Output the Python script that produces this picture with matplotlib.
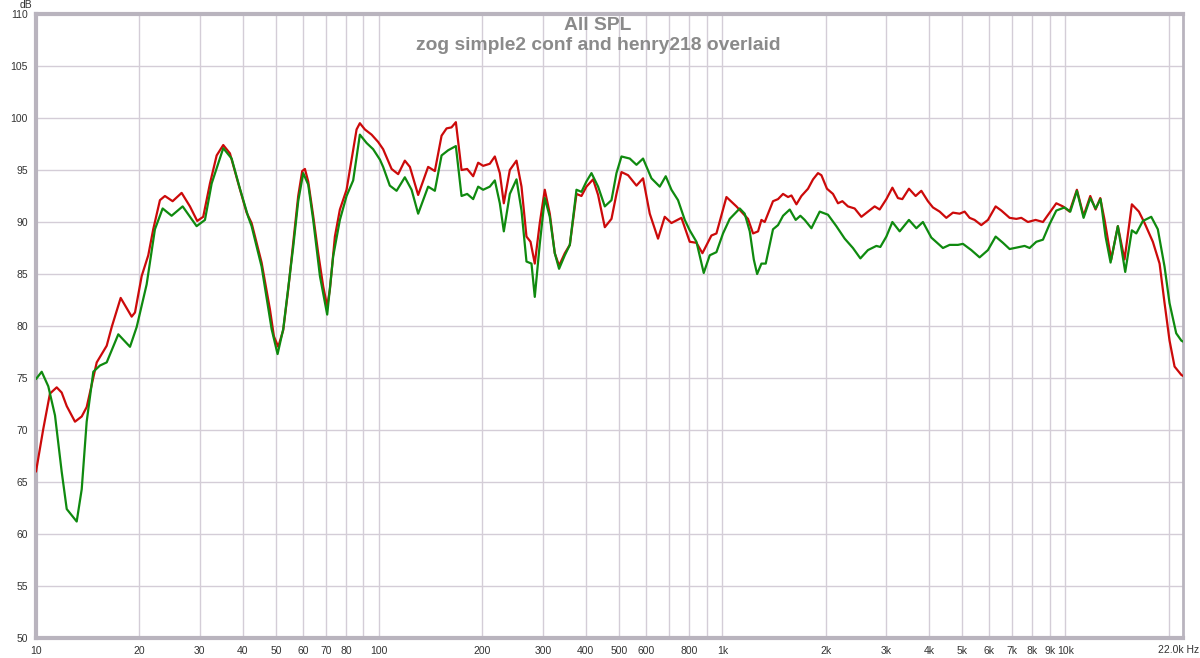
import matplotlib
matplotlib.use("Agg")
import matplotlib.pyplot as plt
from matplotlib.ticker import FixedLocator, NullLocator, FixedFormatter

# ---------------- data ----------------
red_freq = [10.0, 10.5, 10.98, 11.49, 11.88, 12.29, 12.99, 13.59, 14.05, 15.03, 16.07, 16.62, 17.65, 19.0, 19.43,
            20.32, 21.24, 21.96, 22.97, 23.75, 25.01, 26.57, 28.09, 29.50, 30.71, 32.13, 33.61,
            35.13, 36.74, 38.86, 41.09, 42.49, 45.44, 48.05, 49.36, 50.8, 52.53, 54.32, 56.17,
            58.09, 59.67, 60.76, 62.12, 64.23, 66.43, 68.70, 70.56, 71.85, 74.30, 76.83, 80.35,
            83.10, 85.94, 87.85, 90.85, 95.04, 99.3, 102.7, 108.7, 113.6, 118.8, 122.9, 129.9,
            138.9, 145.3, 152.0, 157.2, 162.5, 167.3, 173.8, 180.5, 187.9, 194.3, 200.9, 210.1,
            217.3, 224.7, 230.8, 240.3, 251.3, 259.9, 268.7, 276.1, 284.1, 293.8, 303.8, 314.2,
            324.9, 334.4, 347.5, 359.4, 375.8, 388.6, 401.8, 420.1, 434.5, 454.5, 475.3, 491.5,
            508.3, 531.3, 562.1, 587.5, 614.5, 649.6, 679.4, 710.7, 760.0, 803.5, 840.6, 875.0,
            929.4, 961.2, 1028, 1099, 1188, 1229, 1271, 1300, 1329, 1405, 1453, 1503, 1554, 1590,
            1644, 1700, 1777, 1838, 1900, 1944, 2018, 2101, 2173, 2238, 2323, 2430, 2542, 2657,
            2779, 2874, 3006, 3130, 3249, 3346, 3498, 3658, 3801, 3973, 4109, 4298, 4495, 4699,
            4915, 5082, 5256, 5434, 5683, 5943, 6258, 6502, 6874, 7190, 7435, 7771, 8183, 8597,
            8990, 9402, 9827, 10278, 10795, 11290, 11808, 12236, 12628, 12998, 13591, 14210,
            14862, 15610, 16363, 17000, 17970, 18800, 19440, 20100, 20790, 21750, 22000]
red_db = [66.0, 70.1, 73.5, 74.1, 73.6, 72.3, 70.8, 71.3, 72.2, 76.5, 78.1, 79.9, 82.7, 80.9, 81.3,
          84.8, 86.8, 89.3, 92.1, 92.5, 92.0, 92.8, 91.5, 90.1, 90.5, 93.7, 96.4,
          97.4, 96.6, 93.7, 90.9, 89.9, 86.1, 81.6, 79.0, 78.0, 79.6, 83.5, 88.0,
          92.5, 94.9, 95.1, 93.9, 90.6, 87.0, 83.8, 81.9, 83.5, 88.6, 91.2, 93.1,
          96.0, 98.9, 99.5, 98.9, 98.4, 97.7, 97.0, 95.1, 94.6, 95.9, 95.3, 92.6,
          95.3, 94.9, 98.3, 99.0, 99.1, 99.6, 95.0, 95.1, 94.4, 95.7, 95.4, 95.6,
          96.3, 94.7, 91.8, 95.0, 95.9, 93.4, 88.6, 88.1, 86.0, 89.9, 93.1, 90.8,
          87.0, 85.8, 87.0, 87.8, 92.7, 92.5, 93.4, 94.1, 92.6, 89.5, 90.3, 92.7,
          94.8, 94.5, 93.5, 94.2, 90.8, 88.4, 90.5, 89.9, 90.4, 88.1, 88.0, 87.0,
          88.7, 88.9, 92.4, 91.5, 90.3, 88.9, 89.1, 90.2, 90.0, 92.0, 92.2, 92.7, 92.4, 92.55,
          91.7, 92.5, 93.2, 94.1, 94.7, 94.5, 93.2, 92.7, 91.8, 92.0, 91.5, 91.3, 90.5, 91.0,
          91.5, 91.2, 92.2, 93.3, 92.3, 92.2, 93.2, 92.5, 93.0, 92.0, 91.4, 91.0, 90.4, 90.9,
          90.8, 91.0, 90.4, 90.2, 89.7, 90.2, 91.5, 91.1, 90.4, 90.3, 90.4, 90.0, 90.2, 90.0,
          90.9, 91.8, 91.5, 91.0, 93.1, 90.6, 92.5, 91.2, 92.3, 90.2, 86.4, 89.6,
          86.4, 91.7, 91.0, 89.9, 88.1, 86.0, 82.2, 78.6, 76.1, 75.3, 75.2]

green_freq = [10.0, 10.39, 10.86, 11.36, 11.88, 12.29, 12.71, 13.14, 13.59, 14.05, 14.69, 15.36, 16.07,
              17.37, 18.79, 19.65, 21.01, 22.21, 23.39, 24.84, 26.75, 28.09, 29.38, 31.07, 32.50,
              35.13, 37.16, 39.29, 41.53, 42.49, 45.44, 48.6, 50.58, 52.53, 56.17, 58.09, 60.07,
              62.12, 64.23, 67.2, 70.56, 73.45, 76.83, 80.35, 84.0, 87.85, 91.9, 96.05, 100.5,
              102.7, 107.4, 112.4, 118.8,
              124.3, 129.9, 138.9, 145.3, 152.0, 158.9, 167.3, 173.8, 180.5, 187.9, 194.3, 200.9,
              210.1, 217.3, 224.7, 230.8, 240.3, 251.3, 259.9, 268.7, 277.9, 284.1, 293.8, 303.8,
              314.2, 324.9, 334.4, 347.5, 359.4, 375.8, 388.6, 401.8, 415.6, 434.5, 454.5, 475.3,
              491.5, 508.3, 537.4, 562.1, 587.5, 621.5, 657.1, 684.0, 710.7, 742.9, 777.2, 803.5,
              840.6, 882.7, 919.0, 961.2, 1004.6, 1051, 1124, 1162, 1202, 1235, 1263, 1300, 1338,
              1405, 1453, 1503, 1572, 1636, 1688, 1738, 1818, 1922, 2032, 2149, 2273, 2402, 2525,
              2657, 2811, 2887, 3006, 3130, 3287, 3498, 3676, 3842, 4065, 4394, 4596, 4860, 5025,
              5315, 5620, 5943, 6258, 6572, 6874, 7350, 7601, 7861, 8222, 8597, 8990, 9402, 9940,
              10328, 10795, 11290, 11808, 12236, 12654, 13085, 13532, 14210, 14930, 15610, 16080,
              16806, 17780, 18580, 19440, 20100, 21020, 21750, 22000]
green_db = [74.9, 75.6, 74.2, 71.4, 66.0, 62.4, 61.8, 61.2, 64.3, 70.8, 75.6, 76.2, 76.5,
            79.2, 78.0, 79.9, 84.0, 89.3, 91.3, 90.6, 91.5, 90.5, 89.6, 90.2, 93.7,
            97.1, 96.1, 93.2, 90.5, 89.6, 85.7, 79.7, 77.3, 79.7, 87.6, 92.0, 94.7,
            93.6, 90.2, 84.8, 81.1, 86.7, 90.2, 92.5, 94.0, 98.4, 97.6, 97.0, 96.0,
            95.3, 93.5, 93.0, 94.3,
            93.1, 90.8, 93.4, 93.0, 96.4, 96.9, 97.3, 92.5, 92.7, 92.2, 93.4, 93.1,
            93.4, 94.0, 91.8, 89.1, 92.7, 94.1, 91.1, 86.2, 86.0, 82.8, 87.9, 92.3,
            90.5, 87.0, 85.5, 86.8, 87.8, 93.1, 92.9, 93.9, 94.7, 93.4, 91.5, 92.1,
            94.7, 96.3, 96.1, 95.5, 96.1, 94.2, 93.4, 94.4, 93.1, 92.1, 90.2, 89.2,
            88.1, 85.1, 86.8, 87.1, 88.9, 90.3, 91.3, 90.8, 89.1, 86.4, 85.0, 86.0, 86.0,
            89.3, 89.7, 90.6, 91.2, 90.2, 90.6, 90.2, 89.4, 91.0, 90.7, 89.6, 88.4, 87.5, 86.5,
            87.3, 87.7, 87.6, 88.6, 90.0, 89.1, 90.2, 89.4, 90.0, 88.5, 87.5, 87.8, 87.8, 87.9,
            87.3, 86.6, 87.3, 88.6, 88.0, 87.4, 87.6, 87.7, 87.5, 88.1, 88.3, 89.8, 91.1, 91.4,
            91.0, 93.0, 90.4, 92.3, 91.3, 92.2, 88.6, 86.1, 89.6, 85.2, 89.2, 88.9,
            90.1, 90.5, 89.3, 85.7, 82.2, 79.3, 78.6, 78.5]

grid_freqs = [10, 20, 30, 40, 50, 60, 70, 80, 90, 100, 200, 300, 400, 500, 600, 700, 800, 900,
              1000, 2000, 3000, 4000, 5000, 6000, 7000, 8000, 9000, 10000, 20000]
tick_labels = ["10", "20", "30", "40", "50", "60", "70", "80", "", "100", "200", "300", "400", "500",
               "600", "", "800", "", "1k", "2k", "3k", "4k", "5k", "6k", "7k", "8k", "9k", "10k", ""]
y_ticks = [50, 55, 60, 65, 70, 75, 80, 85, 90, 95, 100, 105, 110]

title_lines = ["All SPL", "zog simple2 conf and henry218 overlaid"]

# ---------------- figure ----------------
plt.rcParams["font.family"] = ["Liberation Sans", "DejaVu Sans"]
W, H = 1200, 658
fig = plt.figure(figsize=(W / 100, H / 100), dpi=100)
fig.patch.set_facecolor("white")
ax = fig.add_axes([36 / W, 20 / H, (1183 - 36) / W, (638 - 14) / H])
ax.set_facecolor("white")

ax.set_xscale("log")
ax.set_xlim(10, 22000)
ax.set_ylim(50, 110)

grid_c = "#d4cdd7"
ax.xaxis.set_major_locator(FixedLocator(grid_freqs))
ax.xaxis.set_major_formatter(FixedFormatter(tick_labels))
ax.xaxis.set_minor_locator(NullLocator())
ax.set_yticks(y_ticks)
ax.grid(True, which="major", color=grid_c, linewidth=1.0)
ax.set_axisbelow(True)
ax.tick_params(axis="both", length=0, labelsize=7.5, labelcolor="#333333")
ax.tick_params(axis="x", pad=6)
ax.tick_params(axis="y", pad=6)

frame_c = "#b9b4be"
for side, lw in (("left", 3), ("bottom", 3), ("top", 3), ("right", 2)):
    ax.spines[side].set_color(frame_c)
    ax.spines[side].set_linewidth(lw)

ax.plot(red_freq, red_db, color="#cc0a0a", linewidth=1.6, zorder=3,
        solid_joinstyle="round", solid_capstyle="round")
ax.plot(green_freq, green_db, color="#0f8a0f", linewidth=1.6, zorder=4,
        solid_joinstyle="round", solid_capstyle="round")

# extra labels
fig.text(1179 / W, 1 - 650 / H, "22.0k Hz", ha="center", va="center",
         fontsize=7.5, color="#333333")
fig.text(26 / W, 1 - 5.5 / H, "dB", ha="center", va="center",
         fontsize=7.5, color="#333333")

fig.text(598 / W, 1 - 25 / H, title_lines[0], ha="center", va="center",
         fontsize=13.9, color="#8a8a8a", fontweight="bold")
fig.text(598 / W, 1 - 45 / H, title_lines[1], ha="center", va="center",
         fontsize=13.9, color="#8a8a8a", fontweight="bold")

fig.savefig("out.png", dpi=100, facecolor="white")
